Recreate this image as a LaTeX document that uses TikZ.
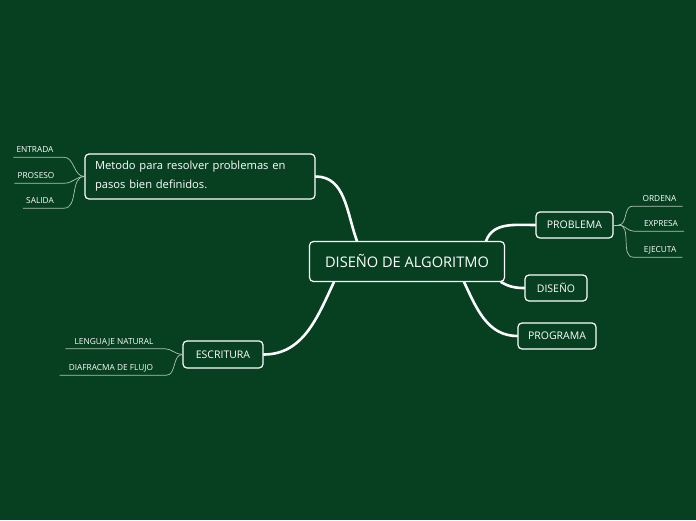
\documentclass[tikz,border=0pt]{standalone}
\usepackage{fontspec}
\setmainfont{Open Sans}
\usetikzlibrary{positioning,backgrounds}
\definecolor{bggreen}{RGB}{6,64,32}
\definecolor{twigline}{RGB}{175,195,180}

\begin{document}
\begin{tikzpicture}[x=1pt,y=-1pt,
		topic/.style={draw=white, line width=1.2pt, rounded corners=4pt, fill=bggreen, text=white, inner sep=0pt},
		branch/.style={white, line width=2.6pt, line cap=round},
		leaf/.style={text=white, font=\fontsize{8.3}{9}\selectfont, inner xsep=3pt, inner ysep=3.5pt, text height=6pt, text depth=1pt},
		twig/.style={twigline, line width=0.7pt}]
	\useasboundingbox (0,0) rectangle (696,520);

	% main topics
	\node[topic, minimum width=195, minimum height=40, font=\fontsize{14.6}{16}\selectfont] (centro) at (407,261.5) {DISEÑO DE ALGORITMO};
	\node[topic, minimum width=230, minimum height=45, text width=210, align=left, font=\fontsize{11.2}{19}\selectfont] (metodo) at (200,176.5) {Metodo para resolver problemas en\\pasos bien definidos.};
	\node[topic, minimum width=77, minimum height=26, font=\fontsize{10.5}{12}\selectfont] (problema) at (574.5,225) {PROBLEMA};
	\node[topic, minimum width=62, minimum height=26, font=\fontsize{10.5}{12}\selectfont] (diseno) at (556,288) {DISEÑO};
	\node[topic, minimum width=78, minimum height=26, font=\fontsize{10.5}{12}\selectfont] (programa) at (557,336) {PROGRAMA};
	\node[topic, minimum width=80, minimum height=27, font=\fontsize{10.5}{12}\selectfont] (escritura) at (223,354.5) {ESCRITURA};

	% branches, behind the boxes
	\begin{scope}[on background layer]
		\fill[bggreen] (0,0) rectangle (696,520);
		\draw[branch] (metodo.east) to[out=0,in=110] ([xshift=48]centro.north west);
		\draw[branch] (escritura.east) to[out=0,in=-115] ([xshift=25]centro.south west);
		\draw[branch] ([xshift=-19]centro.north east) to[out=70,in=180] (problema.west);
		\draw[branch] ([xshift=-4]centro.south east) to[out=-30,in=180] (diseno.west);
		\draw[branch] ([xshift=-41]centro.south east) to[out=-65,in=180] (programa.west);
	\end{scope}

	% leaves on the left
	\node[leaf] (entrada) at (35,150) {ENTRADA};
	\node[leaf] (proseso) at (36,176) {PROSESO};
	\node[leaf] (salida) at (40,201) {SALIDA};
	\foreach \l in {entrada,proseso,salida} {
		\draw[twig] (metodo.west) to[out=180,in=0] ([xshift=7]\l.south east) -- (\l.south west);
	};

	% leaves on the right
	\node[leaf] (ordena) at (659.5,199) {ORDENA};
	\node[leaf] (expresa) at (661,224) {EXPRESA};
	\node[leaf] (ejecuta) at (660,250) {EJECUTA};
	\coordinate (fan) at ([xshift=5]problema.east);
	\draw[twig] (problema.east) -- (fan);
	\foreach \l in {ordena,expresa,ejecuta} {
		\draw[twig] (fan) to[out=0,in=180] ([xshift=-7]\l.south west) -- ([xshift=3]\l.south east);
	};

	% leaves of escritura
	\node[leaf] (lenguaje) at (114,341.5) {LENGUAJE NATURAL};
	\node[leaf] (diagrama) at (111,368) {DIAFRACMA DE FLUJO};
	\foreach \l/\d in {lenguaje/8,diagrama/10} {
		\draw[twig] (escritura.west) to[out=180,in=0] ([xshift=\d]\l.south east) -- ([xshift=-6]\l.south west);
	};
\end{tikzpicture}
\end{document}
